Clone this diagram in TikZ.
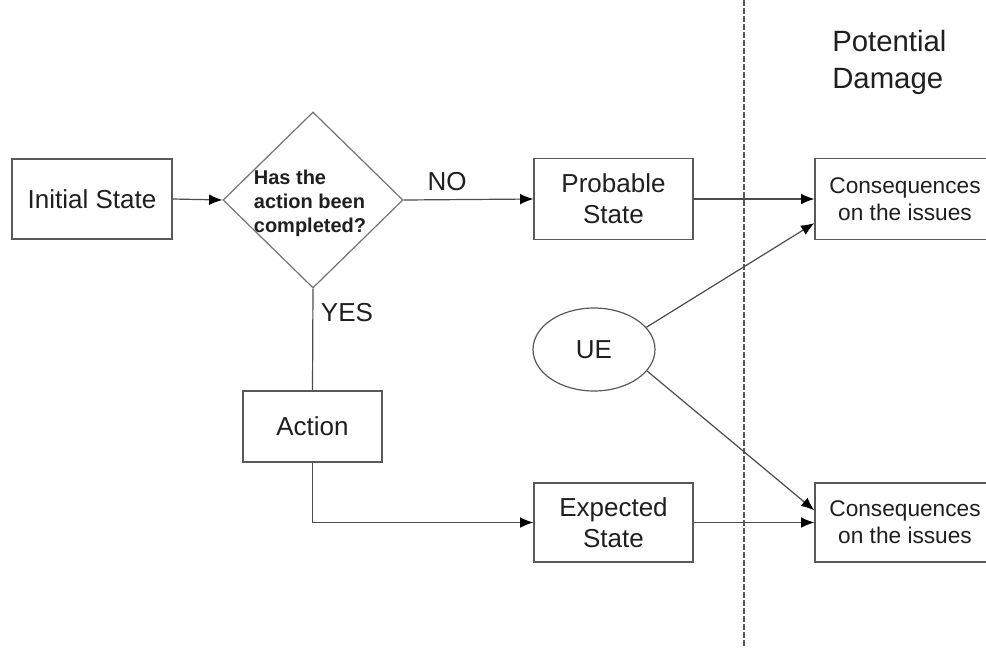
\documentclass[tikz,border=0pt]{standalone}
\usepackage{fontspec}
\setmainfont{Liberation Sans}
\usetikzlibrary{shapes.geometric,arrows.meta}
\begin{document}
\begin{tikzpicture}[x=0.75pt,y=-0.75pt,
  every node/.style={text=black!88},
  boxnode/.style={draw=black!65,line width=0.9pt,minimum width=119.25pt,minimum height=60.75pt,inner sep=0pt,align=center,font=\fontsize{19.5}{23}\selectfont},
  consnode/.style={boxnode,minimum width=135pt,font=\fontsize{17}{20}\selectfont},
  lbl/.style={font=\fontsize{19.5}{23}\selectfont,inner sep=0pt},
  conn/.style={draw=black!70,line width=0.9pt},
  arr/.style={conn,-{Latex[length=10pt,width=8pt,color=black]}}]
\clip (0,0) rectangle (986,651);
\fill[white] (0,0) rectangle (986,651);
% dashed divider
\coordinate (dtop) at (744,0);
\coordinate (dbot) at (744,648);
\draw[draw=black!65,line width=0.8pt,dash pattern=on 4.5pt off 1.5pt] (dtop) -- (dbot);
% nodes
\node[boxnode,minimum width=120pt,minimum height=60pt] (init) at (92,199) {Initial State};
\node[diamond,draw=black!55,line width=0.9pt,minimum width=135pt,minimum height=132pt,inner sep=0pt] (dec) at (313,200) {};
\node[align=left,inner sep=0pt,font=\bfseries\fontsize{15}{18}\selectfont] (dectext) at (310,203) {Has the\\action been\\completed?};
\node[boxnode] (prob) at (613.5,199) {Probable\\State};
\node[consnode] (cons1) at (905,199) {Consequences\\on the issues};
\node[ellipse,draw=black!65,line width=0.9pt,minimum width=91.5pt,minimum height=62.25pt,inner sep=0pt,font=\fontsize{19.5}{23}\selectfont] (ue) at (594,349.5) {UE};
\node[boxnode,minimum width=104.25pt,minimum height=53.25pt] (act) at (312.5,426.5) {Action};
\node[boxnode,minimum height=59.25pt] (exp) at (613.5,522.5) {Expected\\State};
\node[consnode,minimum height=59.25pt] (cons2) at (905,522.5) {Consequences\\on the issues};
\node[align=left,anchor=west,inner sep=0pt,font=\fontsize{22}{27.75}\selectfont] (pd) at (832,62) {Potential\\Damage};
% labels
\node[lbl] (no) at (447,182) {NO};
\node[lbl] (yes) at (347,313) {YES};
% connectors
\draw[arr] (init.east) -- (dec.west);
\draw[arr] (dec.east) -- (prob.west);
\draw[arr] (prob.east) -- (cons1.west);
\draw[conn] (dec.south) -- (act.north);
\draw[arr] (act.south) |- (exp.west);
\draw[arr] (exp.east) -- (cons2.west);
\coordinate (c1in) at ([yshift=12.75pt]cons1.south west);
\coordinate (c2in) at ([yshift=-21pt]cons2.north west);
\draw[arr] (ue.23) -- (c1in);
\draw[arr] (ue.-22) -- (c2in);
\end{tikzpicture}
\end{document}
